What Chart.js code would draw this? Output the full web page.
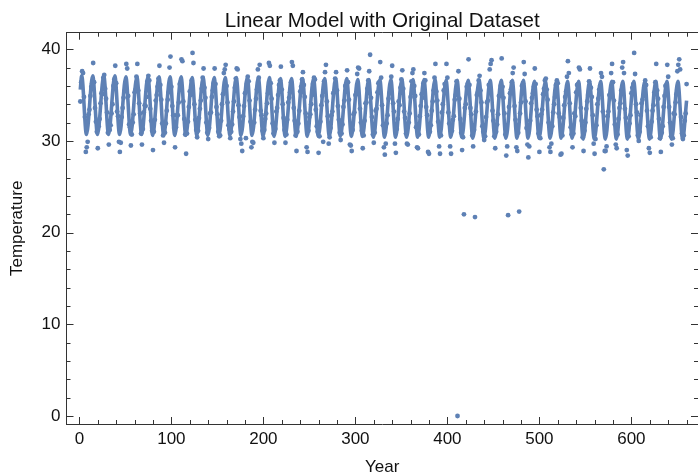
<!DOCTYPE html>
<html>
<head>
<meta charset="utf-8">
<title>Linear Model with Original Dataset</title>
<script src="https://cdn.jsdelivr.net/npm/chart.js@4"></script>
<style>
  html, body { margin: 0; padding: 0; background: #fff; }
  canvas { display: block; }
</style>
</head>
<body>
<canvas id="chart" width="698" height="476"></canvas>
<script>
// monthly readings, one row per 12 months, starting at month 1
const temperature = [
  34.3,36.4,37.6,37.4,34.8,32.6,28.8,29.3,29.9,32.9,33.4,34.9,
  35.9,36.3,38.5,36.4,33.6,32.1,31.0,29.2,31.6,32.4,34.1,35.2,
  35.1,36.9,37.2,35.7,34.6,33.1,30.9,29.6,31.2,31.7,33.0,34.0,
  36.0,36.7,38.2,36.3,33.2,32.7,29.9,28.8,29.8,32.6,33.6,34.7,
  35.4,36.1,38.4,37.9,34.9,31.8,31.5,29.5,30.7,32.0,32.9,35.3,
  35.6,37.0,38.4,35.5,34.1,33.0,30.8,29.6,31.3,33.1,33.9,33.8,
  34.8,36.5,37.1,36.6,33.5,32.2,31.1,29.0,31.0,32.3,34.4,35.0,
  35.9,36.8,38.2,36.1,34.5,31.9,30.6,29.8,30.9,31.9,33.3,34.5,
  35.3,38.0,39.2,35.9,33.8,32.8,31.4,29.3,31.5,32.8,32.8,34.2,
  36.2,36.4,38.9,38.7,34.3,32.4,30.7,28.6,30.8,32.1,33.7,35.4,
  35.0,36.6,39.6,38.5,34.0,32.3,31.2,30.4,31.1,32.5,33.5,34.4,
  35.7,36.9,37.9,35.8,34.7,32.0,30.9,30.2,31.4,33.0,33.1,34.8,
  35.5,36.3,37.9,36.2,33.7,32.9,31.0,30.5,30.6,32.2,34.0,35.1,
  37.4,37.8,38.3,36.0,34.2,31.7,31.3,30.3,31.0,31.8,33.2,34.3,
  35.8,36.8,37.9,37.8,33.9,32.6,30.2,29.7,28.9,32.7,33.8,35.2,
  30.3,36.2,37.0,36.5,34.4,32.1,29.3,29.9,29.8,32.0,33.4,34.6,
  35.6,37.8,36.9,38.3,33.3,32.8,31.1,30.3,31.2,32.4,33.0,34.1,
  35.2,38.5,38.2,36.3,34.6,31.9,30.8,29.8,31.3,33.2,33.6,35.0,
  36.1,36.6,38.1,35.6,34.0,32.5,31.2,29.8,30.7,32.3,34.2,34.7,
  35.3,36.4,38.6,38.2,33.6,32.2,30.6,28.9,31.0,31.9,33.3,35.4,
  35.9,36.7,37.5,36.1,34.8,33.0,29.3,28.8,31.1,32.6,32.9,34.0,
  35.0,36.2,36.9,36.7,33.4,31.6,31.0,28.7,30.5,32.1,33.9,34.9,
  29.9,36.5,37.5,38.3,34.3,32.7,29.7,30.4,31.4,32.8,33.2,35.2,
  35.4,36.8,37.5,35.5,33.8,32.3,30.9,30.1,30.8,31.8,33.7,34.4,
  36.0,36.1,37.7,36.4,34.5,29.6,29.5,28.9,31.2,32.9,33.1,35.0,
  35.1,37.3,38.0,37.9,33.5,32.0,31.1,29.2,30.6,32.2,34.1,34.2,
  35.7,36.6,37.6,39.4,34.7,32.6,30.7,29.8,30.9,33.3,33.5,35.3,
  36.3,36.4,38.6,36.9,33.9,31.7,29.3,28.5,29.7,31.9,32.8,34.6,
  35.2,36.0,37.0,38.2,34.1,33.2,29.7,28.7,31.3,32.4,34.3,33.9,
  35.8,36.7,37.7,35.7,33.2,32.5,30.8,29.7,29.6,32.0,33.0,34.8,
  36.5,37.4,37.8,36.0,34.9,31.5,29.3,29.2,30.7,32.7,33.8,35.1,
  34.7,36.3,37.4,36.6,33.7,32.8,28.8,28.6,31.0,31.7,33.3,34.3,
  35.5,36.9,38.4,35.4,34.4,32.1,29.4,28.6,30.6,33.1,34.0,35.5,
  36.2,36.1,38.4,36.9,33.1,31.9,29.4,28.6,31.1,32.3,32.7,34.5,
  35.0,36.5,0,37.6,34.6,32.4,30.9,29.0,30.4,22.0,33.6,34.0,
  35.9,36.2,38.9,36.1,33.6,32.9,30.6,29.4,31.2,21.7,33.2,35.0,
  35.3,36.6,37.1,35.5,34.2,31.6,31.0,30.1,30.5,32.6,34.2,34.4,
  36.1,37.8,38.4,38.8,33.3,32.2,30.5,29.2,31.0,31.8,32.9,34.9,
  34.9,36.0,39.0,35.9,34.7,33.0,30.7,28.4,29.4,21.9,33.7,35.2,
  35.6,36.4,37.4,38.0,33.8,32.3,29.3,28.9,30.9,22.3,33.0,34.2,
  36.0,36.3,38.6,37.3,34.3,31.4,29.6,28.2,29.4,32.2,34.1,34.7,
  35.2,35.9,37.9,36.2,33.4,32.7,30.8,28.8,30.3,32.9,33.4,35.1,
  35.7,36.6,36.8,35.6,34.5,32.0,29.3,28.8,29.7,31.6,33.1,34.0,
  34.8,36.1,36.6,36.3,33.0,32.6,28.5,28.6,30.6,32.5,33.9,34.8,
  35.4,37.0,38.7,37.4,34.1,31.5,30.7,29.3,30.8,33.0,32.7,35.3,
  36.1,36.2,38.0,37.8,33.6,32.2,30.4,28.9,31.1,32.0,33.5,34.3,
  35.0,36.5,37.9,35.8,34.8,32.8,29.7,28.6,30.2,31.7,34.0,34.6,
  35.6,36.0,37.4,37.0,33.2,26.9,28.9,28.9,29.4,32.7,33.2,35.0,
  34.7,37.4,38.4,36.4,34.4,31.8,29.6,29.2,30.7,32.4,33.6,34.1,
  35.5,38.0,38.6,37.4,33.5,32.5,29.0,28.4,30.5,31.9,32.8,35.2,
  35.8,36.2,39.6,37.3,34.0,33.1,30.6,30.0,31.0,32.8,34.1,34.5,
  34.9,35.8,36.6,36.1,33.3,31.6,29.2,28.7,30.4,32.1,33.3,33.9,
  35.3,36.4,38.4,35.5,34.6,32.4,30.3,28.8,30.9,31.6,33.7,34.9,
  36.0,36.1,38.3,37.0,33.7,32.0,30.5,29.6,30.3,33.0,32.9,34.2,
  35.1,37.6,38.3,38.9,37.8,32.6,30.8,30.2,30.6,32.2,33.0,36.2
];

// fitted curve, read at its start, crests, troughs and end
const fitYears = [
  1,
  2.5,7.7, 14.5,19.7, 26.5,31.7, 38.5,43.7, 50.5,55.7, 62.5,67.7, 74.5,79.7, 86.5,91.7, 98.5,103.7,
  110.5,115.7, 122.5,127.7, 134.5,139.7, 146.5,151.7, 158.5,163.7, 170.5,175.7, 182.5,187.7, 194.5,199.7,
  206.5,211.7, 218.5,223.7, 230.5,235.7, 242.5,247.7, 254.5,259.7, 266.5,271.7, 278.5,283.7, 290.5,295.7,
  302.5,307.7, 314.5,319.7, 326.5,331.7, 338.5,343.7, 350.5,355.7, 362.5,367.7, 374.5,379.7, 386.5,391.7,
  398.5,403.7, 410.5,415.7, 422.5,427.7, 434.5,439.7, 446.5,451.7, 458.5,463.7, 470.5,475.7, 482.5,487.7,
  494.5,499.7, 506.5,511.7, 518.5,523.7, 530.5,535.7, 542.5,547.7, 554.5,559.7, 566.5,571.7, 578.5,583.7,
  590.5,595.7, 602.5,607.7, 614.5,619.7, 626.5,631.7, 638.5,643.7, 650.5,655.7,
  660
];
const fitValues = [
  35.6,
  37.1,30.7, 37.1,30.7, 37.1,30.7, 37.1,30.7, 37.0,30.7, 37.0,30.7, 37.0,30.6, 37.0,30.6, 37.0,30.6,
  37.0,30.6, 36.9,30.6, 36.9,30.6, 36.9,30.6, 36.9,30.6, 36.9,30.6, 36.9,30.6, 36.9,30.5,
  36.9,30.5, 36.8,30.5, 36.8,30.5, 36.8,30.5, 36.8,30.5, 36.8,30.5, 36.8,30.5, 36.8,30.5,
  36.7,30.5, 36.7,30.4, 36.7,30.4, 36.7,30.4, 36.7,30.4, 36.7,30.4, 36.7,30.4, 36.7,30.4,
  36.6,30.4, 36.6,30.4, 36.6,30.3, 36.6,30.3, 36.6,30.3, 36.6,30.3, 36.6,30.3, 36.6,30.3,
  36.5,30.3, 36.5,30.3, 36.5,30.3, 36.5,30.3, 36.5,30.2, 36.5,30.2, 36.5,30.2, 36.5,30.2,
  36.5,30.2, 36.5,30.2, 36.5,30.2, 36.5,30.2, 36.5,30.2, 36.5,30.2,
  34.4
];

const xMajorTicks = [0, 100, 200, 300, 400, 500, 600];
const xMinorTicks = [20, 40, 60, 80, 120, 140, 160, 180, 220, 240, 260, 280, 320, 340, 360, 380, 420, 440, 460, 480, 520, 540, 560, 580, 620, 640, 660];
const yMajorTicks = [0, 10, 20, 30, 40];
const yMinorTicks = [2, 4, 6, 8, 12, 14, 16, 18, 22, 24, 26, 28, 32, 34, 36, 38];

const blue = "#5e81b5";
const axisColor = "#333333";
const fontFamily = "'Liberation Sans', Arial, sans-serif";

// Mathematica style frame: ticks point inward on all four sides
const innerTicks = {
  id: "innerTicks",
  afterDraw(chart) {
    const { ctx, chartArea: a, scales } = chart;
    ctx.save();
    ctx.strokeStyle = axisColor;
    ctx.lineWidth = 1;
    ctx.beginPath();
    const xTick = (v, len) => {
      const px = Math.round(scales.x.getPixelForValue(v)) + 0.5;
      ctx.moveTo(px, a.bottom); ctx.lineTo(px, a.bottom - len);
      ctx.moveTo(px, a.top); ctx.lineTo(px, a.top + len);
    };
    const yTick = (v, len) => {
      const py = Math.round(scales.y.getPixelForValue(v)) + 0.5;
      ctx.moveTo(a.left, py); ctx.lineTo(a.left + len, py);
      ctx.moveTo(a.right, py); ctx.lineTo(a.right - len, py);
    };
    xMajorTicks.forEach(v => xTick(v, 7));
    xMinorTicks.forEach(v => xTick(v, 4));
    yMajorTicks.forEach(v => yTick(v, 7));
    yMinorTicks.forEach(v => yTick(v, 4));
    ctx.stroke();
    ctx.restore();
  }
};

new Chart(document.getElementById("chart"), {
  type: "scatter",
  plugins: [innerTicks],
  data: {
    datasets: [
      {
        label: "Fit",
        data: fitYears.map((x, i) => ({ x: x, y: fitValues[i] })),
        showLine: true,
        cubicInterpolationMode: "monotone",
        borderColor: blue,
        borderWidth: 3.6,
        pointRadius: 0
      },
      {
        label: "Temperature",
        data: temperature.map((y, i) => ({ x: i + 1, y: y })),
        backgroundColor: blue,
        borderWidth: 0,
        pointRadius: 2.4
      }
    ]
  },
  options: {
    responsive: false,
    animation: false,
    layout: { padding: 0, autoPadding: false },
    plugins: {
      legend: { display: false },
      tooltip: { enabled: false },
      title: {
        display: true,
        fullSize: false,
        text: "Linear Model with Original Dataset",
        color: "#111",
        font: { family: fontFamily, size: 20.6, weight: "normal" },
        padding: { top: 9, bottom: -1 }
      }
    },
    scales: {
      x: {
        type: "linear",
        min: -14,
        max: 672.4,
        afterBuildTicks: s => { s.ticks = xMajorTicks.map(v => ({ value: v })); },
        afterFit: s => { s.height = 52; },
        border: { display: true, color: axisColor, width: 1 },
        grid: { display: false, drawTicks: false },
        ticks: { color: "#111", font: { family: fontFamily, size: 17 }, padding: 5, maxRotation: 0 },
        title: { display: true, text: "Year", color: "#111", font: { family: fontFamily, size: 17 }, padding: { top: 5, bottom: -2 } }
      },
      y: {
        type: "linear",
        min: -0.87,
        max: 41.8,
        afterBuildTicks: s => { s.ticks = yMajorTicks.map(v => ({ value: v })); },
        afterFit: s => { s.width = 66.5; },
        border: { display: true, color: axisColor, width: 1 },
        grid: { display: false, drawTicks: false },
        ticks: { color: "#111", font: { family: fontFamily, size: 17 }, padding: 6 },
        title: { display: true, text: "Temperature", color: "#111", font: { family: fontFamily, size: 17 }, padding: { top: 7, bottom: 0 } }
      },
      // top edge of the frame
      x2: {
        type: "linear",
        position: "top",
        display: true,
        min: -14,
        max: 672.4,
        afterFit: s => { s.height = 0; },
        border: { display: true, color: axisColor, width: 1 },
        grid: { display: false, drawTicks: false },
        ticks: { display: false }
      }
    }
  }
});
</script>
</body>
</html>
